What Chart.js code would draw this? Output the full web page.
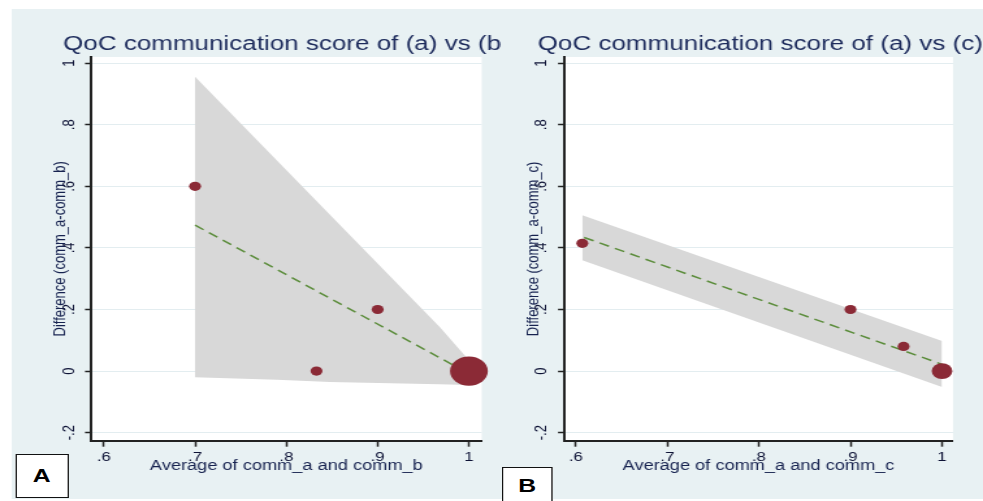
<!DOCTYPE html>
<html>
<head>
<meta charset="utf-8">
<script src="https://cdn.jsdelivr.net/npm/chart.js@4.4.0/dist/chart.umd.min.js"></script>
<style>
  html, body { margin: 0; padding: 0; background: #fff; overflow: hidden; }
  /* the reference picture is stretched sideways, so the whole stage is too */
  #stage { position: absolute; left: 0; top: 0; width: 756px; height: 501px; transform: scaleX(1.3003); transform-origin: 0 0; }
  #bg { position: absolute; left: 9.2px; top: 9px; width: 747px; height: 490px; background: #e8f1f3; }
  canvas { position: absolute; top: 0; }
  #chartA { left: 0; }
  #chartB { left: 385px; }
  .tag { position: absolute; box-sizing: border-box; background: #fff; border: 1.5px solid #111;
         font: bold 19px 'Liberation Sans', Arial, sans-serif; color: #000;
         display: flex; align-items: center; justify-content: center; }
</style>
</head>
<body>
<div id="stage">
  <div id="bg"></div>
  <canvas id="chartA" width="385" height="501"></canvas>
  <canvas id="chartB" width="371" height="501"></canvas>
  <div class="tag" style="left:11.5px; top:454px; width:41px; height:44px;">A</div>
  <div class="tag" style="left:386px; top:467px; width:39px; height:42px; padding-bottom:4px;">B</div>
</div>
<script>
const S = 1.3003;   // horizontal stretch of the reference

// shared axes
const yTicks = [-0.2, 0, 0.2, 0.4, 0.6, 0.8, 1];
const yTickLabels = ['-.2', '0', '.2', '.4', '.6', '.8', '1'];
const xTicks = [0.6, 0.7, 0.8, 0.9, 1];
const xTickLabels = ['.6', '.7', '.8', '.9', '1'];

// panel A : comm_a vs comm_b
const avgA = [0.7, 0.833, 0.9, 1.0];
const diffA = [0.6, 0, 0.2, 0];
const countA = [1, 1, 1, 10];
const fitXA = [0.7, 1.0];
const fitYA = [0.474, -0.008];
const ciUpXA = [0.7, 0.9685, 1.0];
const ciUpYA = [0.956, 0.142, 0.035];
const ciLoXA = [0.7, 0.79, 0.848, 0.968, 1.0];
const ciLoYA = [-0.02, -0.028, -0.035, -0.043, -0.045];

// panel B : comm_a vs comm_c
const avgB = [0.607, 0.9, 0.958, 1.0];
const diffB = [0.415, 0.2, 0.08, 0];
const countB = [1, 1, 1, 3];
const fitXB = [0.609, 1.0];
const fitYB = [0.434, 0.022];
const ciUpXB = [0.607, 1.0];
const ciUpYB = [0.506, 0.098];
const ciLoXB = [0.607, 1.0];
const ciLoYB = [0.36, -0.052];

const FONT = "'Liberation Sans', Arial, sans-serif";
Chart.defaults.font.family = FONT;

function pts(xs, ys) {
  return xs.map((x, i) => ({x: x, y: ys[i]}));
}

// white plot region + the big title on top
const panelDecor = {
  id: 'panelDecor',
  beforeDraw(chart, args, opts) {
    const a = chart.chartArea;
    const ctx = chart.ctx;
    ctx.save();
    ctx.fillStyle = '#ffffff';
    ctx.fillRect(a.left, a.top, a.right - a.left, a.bottom - a.top);
    ctx.restore();
  },
  afterDraw(chart, args, opts) {
    const ctx = chart.ctx;
    ctx.save();
    ctx.font = '20px ' + FONT;
    ctx.fillStyle = '#1d2b5c';
    ctx.textBaseline = 'alphabetic';
    ctx.fillText(opts.title, chart.chartArea.left + opts.shift, 50);
    ctx.restore();
  }
};

function makePanel(id, p) {
  const navy = '#16224f';
  new Chart(document.getElementById(id), {
    type: 'scatter',
    data: {
      datasets: [
        {
          data: pts(p.avg, p.diff),
          pointRadius: c => 4.6 * Math.sqrt(p.count[c.dataIndex]),
          backgroundColor: '#8b2a36',
          borderWidth: 0,
          clip: false,
          order: 0
        },
        {
          data: pts(p.fitX, p.fitY),
          showLine: true,
          borderColor: '#5c8d3c',
          borderDash: [8, 5],
          borderWidth: 1.5,
          pointRadius: 0,
          order: 1
        },
        {
          data: pts(p.upX, p.upY),
          showLine: true,
          fill: '+1',
          backgroundColor: '#d8d8d8',
          borderColor: 'rgba(0,0,0,0)',
          borderWidth: 0,
          pointRadius: 0,
          order: 2
        },
        {
          data: pts(p.loX, p.loY),
          showLine: true,
          borderColor: 'rgba(0,0,0,0)',
          borderWidth: 0,
          pointRadius: 0,
          order: 3
        }
      ]
    },
    options: {
      responsive: false,
      animation: false,
      events: [],
      layout: { padding: p.pad },
      plugins: {
        legend: { display: false },
        tooltip: { enabled: false },
        panelDecor: { title: p.title, shift: p.titleShift }
      },
      scales: {
        x: {
          type: 'linear',
          min: p.xMin,
          max: p.xMax,
          afterBuildTicks: s => { s.ticks = xTicks.map(v => ({value: v})); },
          afterFit: s => { s.height = 45; },
          ticks: {
            callback: v => xTickLabels[xTicks.indexOf(v)],
            font: { size: 13 },
            color: '#0d1235',
            padding: 3,
            autoSkip: false,
            maxRotation: 0
          },
          grid: { drawOnChartArea: false, tickLength: 6, tickColor: '#222', tickWidth: 1.5 },
          border: { display: true, color: '#222', width: 2 },
          title: { display: true, text: p.xTitle, font: { size: 14 }, color: navy, padding: { top: 0, bottom: 11 } }
        },
        y: {
          type: 'linear',
          min: -0.226,
          max: 1.02,
          afterBuildTicks: s => { s.ticks = yTicks.map(v => ({value: v})); },
          afterFit: s => { s.width = 48; },
          ticks: {
            callback: v => yTickLabels[yTicks.indexOf(v)],
            minRotation: 90,
            maxRotation: 90,
            crossAlign: 'center',
            padding: 4.7,
            font: { size: 13 },
            color: '#0d1235',
            autoSkip: false
          },
          grid: { color: '#e3edf0', lineWidth: 1, tickLength: 4.6, tickColor: '#222', tickWidth: 1.5 },
          border: { display: true, color: '#222', width: 2 },
          title: { display: true, text: p.yTitle, font: { size: 13 }, color: navy, padding: { top: 16.8, bottom: 0 } }
        }
      }
    },
    plugins: [panelDecor]
  });
}

makePanel('chartA', {
  avg: avgA, diff: diffA, count: countA,
  fitX: fitXA, fitY: fitYA,
  upX: ciUpXA, upY: ciUpYA, loX: ciLoXA, loY: ciLoYA,
  xMin: 0.586, xMax: 1.014,
  title: 'QoC communication score of (a) vs (b)',
  titleShift: -21.5,
  xTitle: 'Average of comm_a and comm_b',
  yTitle: 'Difference (comm_a-comm_b)',
  pad: { left: 91 / S - 48, right: 385 - 482 / S, top: 57, bottom: 501 - 440.7 - 45 }
});

makePanel('chartB', {
  avg: avgB, diff: diffB, count: countB,
  fitX: fitXB, fitY: fitYB,
  upX: ciUpXB, upY: ciUpYB, loX: ciLoXB, loY: ciLoYB,
  xMin: 0.587, xMax: 1.012,
  title: 'QoC communication score of (a) vs (c)',
  titleShift: -20.2,
  xTitle: 'Average of comm_a and comm_c',
  yTitle: 'Difference (comm_a-comm_c)',
  pad: { left: 564 / S - 385 - 48, right: 371 - (953 / S - 385), top: 57, bottom: 501 - 440.7 - 45 }
});
</script>
</body>
</html>
